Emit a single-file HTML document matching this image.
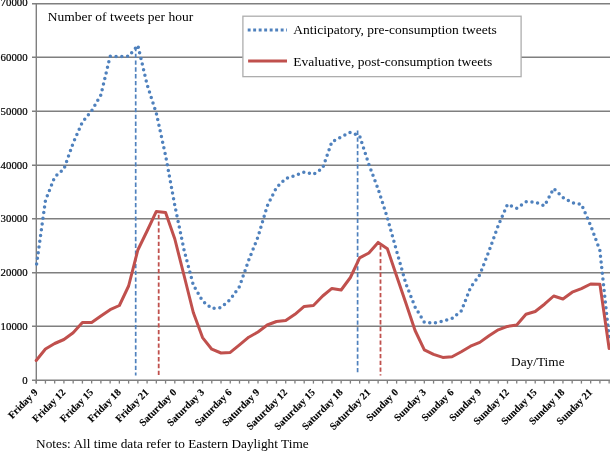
<!DOCTYPE html>
<html><head><meta charset="utf-8"><style>
html,body{margin:0;padding:0;background:#fff;width:610px;height:451px;overflow:hidden;}
svg{display:block;will-change:transform;}
text{font-family:"Liberation Serif",serif;fill:#000;}
.yl{stroke:#000;stroke-width:0.2px;}
.xl{stroke:#000;stroke-width:0.12px;font-weight:bold;}
</style></head><body>
<svg width="610" height="451" viewBox="0 0 610 451">
<line x1="32" y1="380.25" x2="610" y2="380.25" stroke="#7f7f7f" stroke-width="1.5"/>
<line x1="32" y1="326.25" x2="610" y2="326.25" stroke="#7f7f7f" stroke-width="1.5"/>
<line x1="32" y1="272.75" x2="610" y2="272.75" stroke="#7f7f7f" stroke-width="1.5"/>
<line x1="32" y1="218.75" x2="610" y2="218.75" stroke="#7f7f7f" stroke-width="1.5"/>
<line x1="32" y1="165.25" x2="610" y2="165.25" stroke="#7f7f7f" stroke-width="1.5"/>
<line x1="32" y1="111.25" x2="610" y2="111.25" stroke="#7f7f7f" stroke-width="1.5"/>
<line x1="32" y1="57.25" x2="610" y2="57.25" stroke="#7f7f7f" stroke-width="1.5"/>
<line x1="32" y1="3.75" x2="610" y2="3.75" stroke="#7f7f7f" stroke-width="1.5"/>
<line x1="36.3" y1="3" x2="36.3" y2="383.5" stroke="#7f7f7f" stroke-width="1.4"/>
<line x1="36.20" y1="380" x2="36.20" y2="383.6" stroke="#7f7f7f" stroke-width="1.3"/>
<line x1="45.44" y1="380" x2="45.44" y2="383.6" stroke="#7f7f7f" stroke-width="1.3"/>
<line x1="54.68" y1="380" x2="54.68" y2="383.6" stroke="#7f7f7f" stroke-width="1.3"/>
<line x1="63.92" y1="380" x2="63.92" y2="383.6" stroke="#7f7f7f" stroke-width="1.3"/>
<line x1="73.16" y1="380" x2="73.16" y2="383.6" stroke="#7f7f7f" stroke-width="1.3"/>
<line x1="82.41" y1="380" x2="82.41" y2="383.6" stroke="#7f7f7f" stroke-width="1.3"/>
<line x1="91.65" y1="380" x2="91.65" y2="383.6" stroke="#7f7f7f" stroke-width="1.3"/>
<line x1="100.89" y1="380" x2="100.89" y2="383.6" stroke="#7f7f7f" stroke-width="1.3"/>
<line x1="110.13" y1="380" x2="110.13" y2="383.6" stroke="#7f7f7f" stroke-width="1.3"/>
<line x1="119.37" y1="380" x2="119.37" y2="383.6" stroke="#7f7f7f" stroke-width="1.3"/>
<line x1="128.61" y1="380" x2="128.61" y2="383.6" stroke="#7f7f7f" stroke-width="1.3"/>
<line x1="137.85" y1="380" x2="137.85" y2="383.6" stroke="#7f7f7f" stroke-width="1.3"/>
<line x1="147.09" y1="380" x2="147.09" y2="383.6" stroke="#7f7f7f" stroke-width="1.3"/>
<line x1="156.33" y1="380" x2="156.33" y2="383.6" stroke="#7f7f7f" stroke-width="1.3"/>
<line x1="165.57" y1="380" x2="165.57" y2="383.6" stroke="#7f7f7f" stroke-width="1.3"/>
<line x1="174.81" y1="380" x2="174.81" y2="383.6" stroke="#7f7f7f" stroke-width="1.3"/>
<line x1="184.06" y1="380" x2="184.06" y2="383.6" stroke="#7f7f7f" stroke-width="1.3"/>
<line x1="193.30" y1="380" x2="193.30" y2="383.6" stroke="#7f7f7f" stroke-width="1.3"/>
<line x1="202.54" y1="380" x2="202.54" y2="383.6" stroke="#7f7f7f" stroke-width="1.3"/>
<line x1="211.78" y1="380" x2="211.78" y2="383.6" stroke="#7f7f7f" stroke-width="1.3"/>
<line x1="221.02" y1="380" x2="221.02" y2="383.6" stroke="#7f7f7f" stroke-width="1.3"/>
<line x1="230.26" y1="380" x2="230.26" y2="383.6" stroke="#7f7f7f" stroke-width="1.3"/>
<line x1="239.50" y1="380" x2="239.50" y2="383.6" stroke="#7f7f7f" stroke-width="1.3"/>
<line x1="248.74" y1="380" x2="248.74" y2="383.6" stroke="#7f7f7f" stroke-width="1.3"/>
<line x1="257.98" y1="380" x2="257.98" y2="383.6" stroke="#7f7f7f" stroke-width="1.3"/>
<line x1="267.22" y1="380" x2="267.22" y2="383.6" stroke="#7f7f7f" stroke-width="1.3"/>
<line x1="276.47" y1="380" x2="276.47" y2="383.6" stroke="#7f7f7f" stroke-width="1.3"/>
<line x1="285.71" y1="380" x2="285.71" y2="383.6" stroke="#7f7f7f" stroke-width="1.3"/>
<line x1="294.95" y1="380" x2="294.95" y2="383.6" stroke="#7f7f7f" stroke-width="1.3"/>
<line x1="304.19" y1="380" x2="304.19" y2="383.6" stroke="#7f7f7f" stroke-width="1.3"/>
<line x1="313.43" y1="380" x2="313.43" y2="383.6" stroke="#7f7f7f" stroke-width="1.3"/>
<line x1="322.67" y1="380" x2="322.67" y2="383.6" stroke="#7f7f7f" stroke-width="1.3"/>
<line x1="331.91" y1="380" x2="331.91" y2="383.6" stroke="#7f7f7f" stroke-width="1.3"/>
<line x1="341.15" y1="380" x2="341.15" y2="383.6" stroke="#7f7f7f" stroke-width="1.3"/>
<line x1="350.39" y1="380" x2="350.39" y2="383.6" stroke="#7f7f7f" stroke-width="1.3"/>
<line x1="359.63" y1="380" x2="359.63" y2="383.6" stroke="#7f7f7f" stroke-width="1.3"/>
<line x1="368.88" y1="380" x2="368.88" y2="383.6" stroke="#7f7f7f" stroke-width="1.3"/>
<line x1="378.12" y1="380" x2="378.12" y2="383.6" stroke="#7f7f7f" stroke-width="1.3"/>
<line x1="387.36" y1="380" x2="387.36" y2="383.6" stroke="#7f7f7f" stroke-width="1.3"/>
<line x1="396.60" y1="380" x2="396.60" y2="383.6" stroke="#7f7f7f" stroke-width="1.3"/>
<line x1="405.84" y1="380" x2="405.84" y2="383.6" stroke="#7f7f7f" stroke-width="1.3"/>
<line x1="415.08" y1="380" x2="415.08" y2="383.6" stroke="#7f7f7f" stroke-width="1.3"/>
<line x1="424.32" y1="380" x2="424.32" y2="383.6" stroke="#7f7f7f" stroke-width="1.3"/>
<line x1="433.56" y1="380" x2="433.56" y2="383.6" stroke="#7f7f7f" stroke-width="1.3"/>
<line x1="442.80" y1="380" x2="442.80" y2="383.6" stroke="#7f7f7f" stroke-width="1.3"/>
<line x1="452.04" y1="380" x2="452.04" y2="383.6" stroke="#7f7f7f" stroke-width="1.3"/>
<line x1="461.29" y1="380" x2="461.29" y2="383.6" stroke="#7f7f7f" stroke-width="1.3"/>
<line x1="470.53" y1="380" x2="470.53" y2="383.6" stroke="#7f7f7f" stroke-width="1.3"/>
<line x1="479.77" y1="380" x2="479.77" y2="383.6" stroke="#7f7f7f" stroke-width="1.3"/>
<line x1="489.01" y1="380" x2="489.01" y2="383.6" stroke="#7f7f7f" stroke-width="1.3"/>
<line x1="498.25" y1="380" x2="498.25" y2="383.6" stroke="#7f7f7f" stroke-width="1.3"/>
<line x1="507.49" y1="380" x2="507.49" y2="383.6" stroke="#7f7f7f" stroke-width="1.3"/>
<line x1="516.73" y1="380" x2="516.73" y2="383.6" stroke="#7f7f7f" stroke-width="1.3"/>
<line x1="525.97" y1="380" x2="525.97" y2="383.6" stroke="#7f7f7f" stroke-width="1.3"/>
<line x1="535.21" y1="380" x2="535.21" y2="383.6" stroke="#7f7f7f" stroke-width="1.3"/>
<line x1="544.46" y1="380" x2="544.46" y2="383.6" stroke="#7f7f7f" stroke-width="1.3"/>
<line x1="553.70" y1="380" x2="553.70" y2="383.6" stroke="#7f7f7f" stroke-width="1.3"/>
<line x1="562.94" y1="380" x2="562.94" y2="383.6" stroke="#7f7f7f" stroke-width="1.3"/>
<line x1="572.18" y1="380" x2="572.18" y2="383.6" stroke="#7f7f7f" stroke-width="1.3"/>
<line x1="581.42" y1="380" x2="581.42" y2="383.6" stroke="#7f7f7f" stroke-width="1.3"/>
<line x1="590.66" y1="380" x2="590.66" y2="383.6" stroke="#7f7f7f" stroke-width="1.3"/>
<line x1="599.90" y1="380" x2="599.90" y2="383.6" stroke="#7f7f7f" stroke-width="1.3"/>
<line x1="609.14" y1="380" x2="609.14" y2="383.6" stroke="#7f7f7f" stroke-width="1.3"/>
<text class="yl" x="27.6" y="383.50" text-anchor="end" font-size="10.8">0</text>
<text class="yl" x="27.6" y="329.50" text-anchor="end" font-size="10.8">10000</text>
<text class="yl" x="27.6" y="276.00" text-anchor="end" font-size="10.8">20000</text>
<text class="yl" x="27.6" y="222.00" text-anchor="end" font-size="10.8">30000</text>
<text class="yl" x="27.6" y="168.50" text-anchor="end" font-size="10.8">40000</text>
<text class="yl" x="27.6" y="114.50" text-anchor="end" font-size="10.8">50000</text>
<text class="yl" x="27.6" y="60.50" text-anchor="end" font-size="10.8">60000</text>
<text class="yl" x="27.6" y="6.35" text-anchor="end" font-size="10.8">70000</text>
<text transform="translate(38.40,393) rotate(-45)" text-anchor="end" font-size="10.2" class="xl">Friday 9</text>
<text transform="translate(66.12,393) rotate(-45)" text-anchor="end" font-size="10.2" class="xl">Friday 12</text>
<text transform="translate(93.85,393) rotate(-45)" text-anchor="end" font-size="10.2" class="xl">Friday 15</text>
<text transform="translate(121.57,393) rotate(-45)" text-anchor="end" font-size="10.2" class="xl">Friday 18</text>
<text transform="translate(149.29,393) rotate(-45)" text-anchor="end" font-size="10.2" class="xl">Friday 21</text>
<text transform="translate(177.01,393) rotate(-45)" text-anchor="end" font-size="10.2" class="xl">Saturday 0</text>
<text transform="translate(204.74,393) rotate(-45)" text-anchor="end" font-size="10.2" class="xl">Saturday 3</text>
<text transform="translate(232.46,393) rotate(-45)" text-anchor="end" font-size="10.2" class="xl">Saturday 6</text>
<text transform="translate(260.18,393) rotate(-45)" text-anchor="end" font-size="10.2" class="xl">Saturday 9</text>
<text transform="translate(287.91,393) rotate(-45)" text-anchor="end" font-size="10.2" class="xl">Saturday 12</text>
<text transform="translate(315.63,393) rotate(-45)" text-anchor="end" font-size="10.2" class="xl">Saturday 15</text>
<text transform="translate(343.35,393) rotate(-45)" text-anchor="end" font-size="10.2" class="xl">Saturday 18</text>
<text transform="translate(371.08,393) rotate(-45)" text-anchor="end" font-size="10.2" class="xl">Saturday 21</text>
<text transform="translate(398.80,393) rotate(-45)" text-anchor="end" font-size="10.2" class="xl">Sunday 0</text>
<text transform="translate(426.52,393) rotate(-45)" text-anchor="end" font-size="10.2" class="xl">Sunday 3</text>
<text transform="translate(454.24,393) rotate(-45)" text-anchor="end" font-size="10.2" class="xl">Sunday 6</text>
<text transform="translate(481.97,393) rotate(-45)" text-anchor="end" font-size="10.2" class="xl">Sunday 9</text>
<text transform="translate(509.69,393) rotate(-45)" text-anchor="end" font-size="10.2" class="xl">Sunday 12</text>
<text transform="translate(537.41,393) rotate(-45)" text-anchor="end" font-size="10.2" class="xl">Sunday 15</text>
<text transform="translate(565.14,393) rotate(-45)" text-anchor="end" font-size="10.2" class="xl">Sunday 18</text>
<text transform="translate(592.86,393) rotate(-45)" text-anchor="end" font-size="10.2" class="xl">Sunday 21</text>
<line x1="135.7" y1="47.0" x2="135.7" y2="375.5" stroke="#4F81BD" stroke-width="1.7" stroke-dasharray="4.3 2.48"/>
<line x1="158.7" y1="214.7" x2="158.7" y2="375" stroke="#C0504D" stroke-width="1.8" stroke-dasharray="4.3 2.48"/>
<line x1="357.6" y1="130.6" x2="357.6" y2="372.5" stroke="#4F81BD" stroke-width="1.7" stroke-dasharray="4.3 2.48"/>
<line x1="380.5" y1="245.5" x2="380.5" y2="375.6" stroke="#C0504D" stroke-width="1.8" stroke-dasharray="4.3 2.48"/>
<polyline points="36.20,267.00 45.44,200.50 54.68,177.00 63.92,169.00 73.16,143.00 82.41,122.00 91.65,110.80 100.89,95.00 110.13,56.20 119.37,56.50 128.61,56.30 137.85,45.30 147.09,84.50 156.33,113.30 165.57,155.50 174.81,205.50 184.06,250.00 193.30,285.00 202.54,301.00 211.78,308.50 221.02,307.50 230.26,299.50 239.50,286.50 248.74,260.00 257.98,237.00 267.22,206.00 276.47,187.50 285.71,178.50 294.95,175.50 304.19,172.00 313.43,174.30 322.67,168.00 331.91,141.80 341.15,137.00 350.39,132.30 359.63,136.00 368.88,164.50 378.12,189.00 387.36,217.80 396.60,251.00 405.84,283.50 415.08,307.00 424.32,322.20 433.56,323.00 442.80,321.20 452.04,318.50 461.29,311.00 470.53,287.50 479.77,274.80 489.01,251.00 498.25,225.50 507.49,204.30 516.73,208.30 525.97,201.80 535.21,202.00 544.46,205.80 553.70,188.50 562.94,197.50 572.18,202.70 581.42,204.30 590.66,225.50 599.90,250.50 609.14,338.00" fill="none" stroke="#4F81BD" stroke-width="3.5" stroke-linecap="round" stroke-linejoin="round" stroke-dasharray="0 5.7705" stroke-dashoffset="2.8"/>
<polyline points="36.20,360.50 45.44,349.00 54.68,343.50 63.92,339.50 73.16,332.70 82.41,322.50 91.65,322.50 100.89,316.00 110.13,309.70 119.37,305.50 128.61,286.00 137.85,250.00 147.09,231.00 156.33,211.40 165.57,212.40 174.81,239.00 184.06,275.50 193.30,312.50 202.54,337.60 211.78,349.20 221.02,353.00 230.26,352.40 239.50,344.80 248.74,337.20 257.98,332.00 267.22,325.00 276.47,321.50 285.71,320.50 294.95,314.30 304.19,306.40 313.43,305.50 322.67,296.00 331.91,288.40 341.15,290.00 350.39,277.50 359.63,257.80 368.88,253.00 378.12,242.40 387.36,248.70 396.60,276.00 405.84,303.00 415.08,330.50 424.32,349.80 433.56,354.30 442.80,357.40 452.04,356.80 461.29,351.80 470.53,346.20 479.77,342.40 489.01,335.80 498.25,329.80 507.49,326.40 516.73,325.00 525.97,314.30 535.21,311.50 544.46,304.20 553.70,296.00 562.94,299.00 572.18,292.20 581.42,288.60 590.66,284.00 599.90,284.30 609.14,348.50" fill="none" stroke="#C0504D" stroke-width="3" stroke-linecap="round" stroke-linejoin="round"/>
<rect x="242.9" y="16.2" width="278.2" height="60.45" fill="#fff" stroke="#ADADAD" stroke-width="1.3"/>
<line x1="247.7" y1="30.05" x2="287" y2="30.05" stroke="#4F81BD" stroke-width="3" stroke-dasharray="2.9 2.6"/>
<line x1="248.1" y1="61" x2="287" y2="61" stroke="#C0504D" stroke-width="3"/>
<text x="293.2" y="34.1" font-size="13.5">Anticipatory, pre-consumption tweets</text>
<text x="293.2" y="65.7" font-size="13.5">Evaluative, post-consumption tweets</text>
<text x="47.7" y="20.75" font-size="13.5">Number of tweets per hour</text>
<text x="511.1" y="366.1" font-size="13.3">Day/Time</text>
<text x="36.1" y="447.6" font-size="13.3">Notes: All time data refer to Eastern Daylight Time</text>
</svg>
</body></html>
